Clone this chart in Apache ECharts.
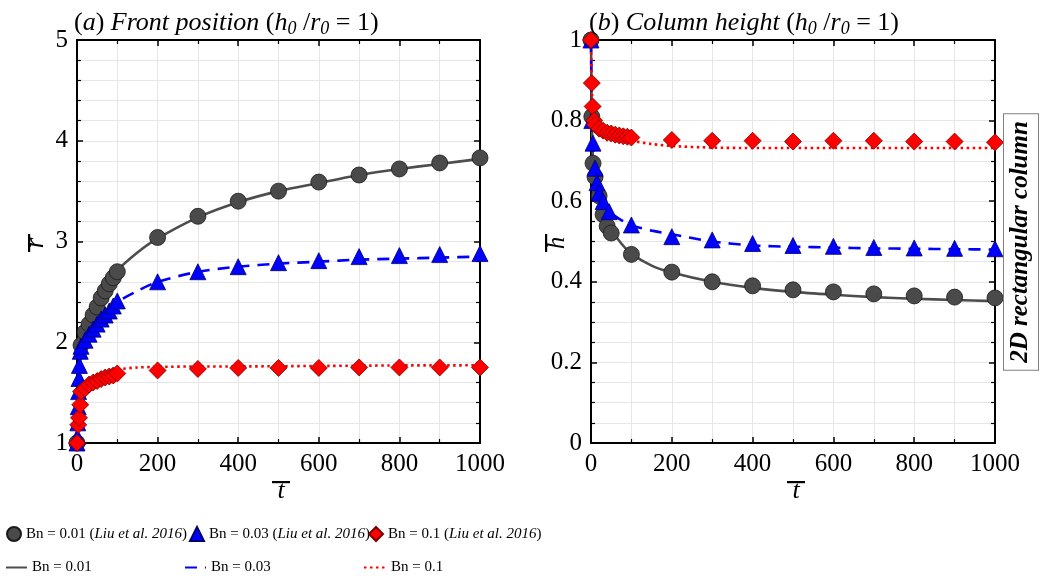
<!DOCTYPE html>
<html>
<head>
<meta charset="utf-8">
<script src="https://cdn.jsdelivr.net/npm/echarts@6/dist/echarts.min.js"></script>
<style>
  html, body { margin: 0; padding: 0; background: #fff; }
  #chart { width: 1050px; height: 588px; }
</style>
</head>
<body>
<div id="chart"></div>
<script>
// ---- (a) front position r vs t ----
const tLiuA01 = [0, 10, 20, 30, 40, 50, 60, 70, 80, 90, 100, 200, 300, 400, 500, 600, 700, 800, 900, 1000];
const rLiu01  = [1.00, 1.97, 2.10, 2.18, 2.27, 2.35, 2.44, 2.51, 2.58, 2.64, 2.70, 3.04, 3.25, 3.40, 3.50, 3.59, 3.66, 3.72, 3.78, 3.83];
const tLiuA03 = [0, 1, 2, 3, 4, 5, 6, 8, 10, 20, 30, 40, 50, 60, 70, 80, 90, 100, 200, 300, 400, 500, 600, 700, 800, 900, 1000];
const rLiu03  = [1.00, 1.06, 1.20, 1.36, 1.51, 1.64, 1.77, 1.91, 1.96, 2.02, 2.08, 2.13, 2.18, 2.23, 2.27, 2.31, 2.36, 2.41, 2.60, 2.70, 2.75, 2.79, 2.81, 2.85, 2.86, 2.87, 2.88];
const tLiuA1  = [0, 3, 5, 8, 10, 20, 30, 40, 50, 60, 70, 80, 90, 100, 200, 300, 400, 500, 600, 700, 800, 900, 1000];
const rLiu1   = [1.00, 1.18, 1.25, 1.38, 1.51, 1.54, 1.58, 1.60, 1.615, 1.635, 1.65, 1.66, 1.67, 1.69, 1.72, 1.735, 1.745, 1.745, 1.745, 1.75, 1.75, 1.75, 1.75];

// model curves share one time axis
const tModel   = [0, 1, 2, 5, 10, 20, 30, 50, 75, 100, 150, 200, 300, 400, 500, 600, 700, 800, 900, 1000];
const rModel01 = [1.00, 1.30, 1.50, 1.75, 1.95, 2.09, 2.18, 2.35, 2.55, 2.71, 2.89, 3.03, 3.24, 3.39, 3.50, 3.58, 3.66, 3.72, 3.77, 3.82];
const rModel03 = [1.00, 1.20, 1.35, 1.65, 1.88, 2.00, 2.07, 2.18, 2.30, 2.40, 2.51, 2.60, 2.70, 2.75, 2.78, 2.80, 2.82, 2.83, 2.84, 2.85];
const rModel1  = [1.00, 1.10, 1.20, 1.35, 1.50, 1.58, 1.62, 1.67, 1.71, 1.73, 1.75, 1.755, 1.76, 1.76, 1.762, 1.765, 1.767, 1.77, 1.77, 1.772];

// ---- (b) column height h vs t ----
const tLiuB01 = [0, 2, 5, 10, 20, 30, 40, 50, 100, 200, 300, 400, 500, 600, 700, 800, 900, 1000];
const hLiu01  = [1.00, 0.81, 0.694, 0.66, 0.613, 0.567, 0.538, 0.521, 0.468, 0.424, 0.40, 0.39, 0.38, 0.375, 0.37, 0.365, 0.362, 0.36];
const tLiuB03 = [0, 2, 5, 10, 15, 20, 30, 45, 100, 200, 300, 400, 500, 600, 700, 800, 900, 1000];
const hLiu03  = [1.00, 0.80, 0.744, 0.682, 0.646, 0.62, 0.599, 0.574, 0.541, 0.512, 0.504, 0.495, 0.49, 0.488, 0.485, 0.484, 0.483, 0.482];
const tLiuB1  = [0, 2, 4, 8, 10, 20, 30, 40, 50, 60, 70, 80, 90, 100, 200, 300, 400, 500, 600, 700, 800, 900, 1000];
const hLiu1   = [1.00, 0.893, 0.835, 0.80, 0.79, 0.78, 0.775, 0.77, 0.768, 0.765, 0.763, 0.761, 0.76, 0.758, 0.752, 0.75, 0.75, 0.748, 0.75, 0.75, 0.748, 0.748, 0.746];

const hModel01 = [1.00, 0.90, 0.80, 0.70, 0.65, 0.60, 0.57, 0.53, 0.495, 0.47, 0.44, 0.423, 0.40, 0.385, 0.375, 0.368, 0.362, 0.358, 0.355, 0.352];
const hModel03 = [1.00, 0.88, 0.80, 0.74, 0.68, 0.62, 0.595, 0.57, 0.553, 0.54, 0.527, 0.518, 0.50, 0.49, 0.487, 0.485, 0.483, 0.482, 0.481, 0.48];
const hModel1  = [1.00, 0.93, 0.88, 0.82, 0.79, 0.775, 0.768, 0.762, 0.756, 0.75, 0.742, 0.737, 0.733, 0.732, 0.732, 0.732, 0.732, 0.732, 0.732, 0.732];

// axis ticks
const tTicks = { min: 0, max: 1000, interval: 200 };
const rTicks = { min: 1, max: 5, interval: 1 };
const hTicks = { min: 0, max: 1, interval: 0.2 };

const names = {
  liu01: 'Bn = 0.01 (Liu et al. 2016)',
  liu03: 'Bn = 0.03 (Liu et al. 2016)',
  liu1:  'Bn = 0.1 (Liu et al. 2016)',
  m01: 'Bn = 0.01',
  m03: 'Bn = 0.03',
  m1:  'Bn = 0.1'
};

const SERIF = '"Liberation Serif", "Times New Roman", serif';
const zip = (xs, ys) => xs.map((x, i) => [x, ys[i]]);

const GRID_COLOR = '#e6e6e6';
const plainNumber = v => String(parseFloat(v.toFixed(2)));

function xAxisFor(gridIndex, position, withLabels) {
  return {
    type: 'value', gridIndex, position,
    min: tTicks.min, max: tTicks.max, interval: tTicks.interval,
    axisLine: { show: true, onZero: false, lineStyle: { color: '#000', width: 2 } },
    axisTick: { show: true, inside: true, length: 6, lineStyle: { color: '#000', width: 1.5 } },
    minorTick: { show: true, splitNumber: 2, length: 4, lineStyle: { color: '#000', width: 1.2 } },
    axisLabel: { show: withLabels, color: '#000', fontFamily: SERIF, fontSize: 25, margin: 9, formatter: plainNumber },
    splitLine: { show: withLabels, lineStyle: { color: GRID_COLOR, width: 1 } },
    minorSplitLine: { show: withLabels, lineStyle: { color: GRID_COLOR, width: 1 } }
  };
}

function yAxisFor(gridIndex, position, ticks, minorSplit, withLabels) {
  return {
    type: 'value', gridIndex, position,
    min: ticks.min, max: ticks.max, interval: ticks.interval,
    axisLine: { show: true, onZero: false, lineStyle: { color: '#000', width: 2 } },
    axisTick: { show: true, inside: true, length: 6, lineStyle: { color: '#000', width: 1.5 } },
    minorTick: { show: true, splitNumber: minorSplit, length: 4, lineStyle: { color: '#000', width: 1.2 } },
    axisLabel: { show: withLabels, color: '#000', fontFamily: SERIF, fontSize: 25, margin: 9, formatter: plainNumber },
    splitLine: { show: withLabels, lineStyle: { color: GRID_COLOR, width: 1 } },
    minorSplitLine: { show: withLabels, lineStyle: { color: GRID_COLOR, width: 1 } }
  };
}

const lineStyles = {
  m01: { color: '#4d4d4d', width: 2.6, type: 'solid' },
  m03: { color: '#0000ff', width: 2.6, type: [12, 8] },
  m1:  { color: '#ff0000', width: 2.6, type: [2.5, 3.5] }
};
const markerStyles = {
  liu01: { symbol: 'circle',   symbolSize: 16, itemStyle: { color: '#4a4a4a', borderColor: '#1a1a1a', borderWidth: 0.8, opacity: 1 } },
  liu03: { symbol: 'triangle', symbolSize: 16, itemStyle: { color: '#0000ff', borderColor: '#00006e', borderWidth: 0.8, opacity: 1 } },
  liu1:  { symbol: 'diamond',  symbolSize: 17, itemStyle: { color: '#ff0000', borderColor: '#7a0000', borderWidth: 0.8, opacity: 1 } }
};

function modelLine(key, axisIdx, ys) {
  return {
    type: 'line', name: names[key], xAxisIndex: axisIdx, yAxisIndex: axisIdx,
    data: zip(tModel, ys), showSymbol: false, symbol: 'none',
    smooth: 0.25, clip: true, z: 2,
    lineStyle: lineStyles[key], itemStyle: { color: lineStyles[key].color },
    emphasis: { disabled: true }
  };
}
function liuScatter(key, axisIdx, ts, ys) {
  return Object.assign({
    type: 'scatter', name: names[key], xAxisIndex: axisIdx, yAxisIndex: axisIdx,
    data: zip(ts, ys), z: 3, clip: false, emphasis: { disabled: true }
  }, markerStyles[key]);
}

// panel titles with italic and subscript runs
const titleRich = {
  n: { fontFamily: SERIF, fontSize: 26, fontWeight: 'normal', color: '#000', lineHeight: 30 },
  i: { fontFamily: SERIF, fontSize: 26, fontWeight: 'normal', color: '#000', fontStyle: 'italic', lineHeight: 30 },
  s: { fontFamily: SERIF, fontSize: 18, fontWeight: 'normal', color: '#000', fontStyle: 'italic', lineHeight: 14, verticalAlign: 'bottom' }
};
const titleA = '{n|(}{i|a}{n|) }{i|Front position }{n|(}{i|h}{s|0}{n| /}{i|r}{s|0}{n| = 1)}';
const titleB = '{n|(}{i|b}{n|) }{i|Column height }{n|(}{i|h}{s|0}{n| /}{i|r}{s|0}{n| = 1)}';

// legend: one component per entry so each sits in its own column
function legendAt(name, left, top, itemWidth, isLine) {
  const lg = {
    data: [name], left, top, orient: 'horizontal',
    itemWidth, itemHeight: 14, itemGap: 0, padding: 0,
    selectedMode: false,
    textStyle: {
      fontFamily: SERIF, fontSize: 15, color: '#000',
      rich: { it: { fontFamily: SERIF, fontSize: 15, color: '#000', fontStyle: 'italic' } }
    },
    formatter: n => n.replace('(Liu et al. 2016)', '({it|Liu et al. 2016})')
  };
  if (isLine) {
    // keep only the line sample, no point marker
    lg.itemStyle = { color: 'rgba(0,0,0,0)', borderColor: 'rgba(0,0,0,0)', borderWidth: 0, opacity: 0 };
  }
  return lg;
}

// overlined axis symbol (r̄, h̄, t̄)
function barSymbol(ch, x, y, rotated, fontSize, barOffset) {
  return {
    type: 'group', x, y, rotation: rotated ? Math.PI / 2 : 0,
    children: [
      { type: 'text', style: { text: ch, x: 0, y: 0, align: 'center', verticalAlign: 'middle',
          font: 'italic ' + fontSize + 'px ' + SERIF, fill: '#000' } },
      { type: 'rect', shape: { x: -9, y: barOffset, width: 18, height: 2.2 }, style: { fill: '#000' } }
    ]
  };
}

const option = {
  backgroundColor: '#fff',
  animation: false,
  title: [
    { text: titleA, left: 74, top: 8, padding: 0, textStyle: { fontWeight: 'normal', rich: titleRich } },
    { text: titleB, left: 589, top: 8, padding: 0, textStyle: { fontWeight: 'normal', rich: titleRich } }
  ],
  grid: [
    { left: 77, top: 40, width: 403, height: 403 },
    { left: 591, top: 40, width: 404, height: 403 }
  ],
  xAxis: [
    xAxisFor(0, 'bottom', true), xAxisFor(0, 'top', false),
    xAxisFor(1, 'bottom', true), xAxisFor(1, 'top', false)
  ],
  yAxis: [
    yAxisFor(0, 'left', rTicks, 5, true), yAxisFor(0, 'right', rTicks, 5, false),
    yAxisFor(1, 'left', hTicks, 4, true), yAxisFor(1, 'right', hTicks, 4, false)
  ],
  legend: [
    legendAt(names.liu01, 6, 526, 14, false),
    legendAt(names.liu03, 189, 526, 14, false),
    legendAt(names.liu1, 368, 526, 14, false),
    legendAt(names.m01, 5, 560, 21, true),
    legendAt(names.m03, 184, 560, 21, true),
    legendAt(names.m1, 363, 560, 22, true)
  ],
  series: [
    modelLine('m01', 0, rModel01),
    modelLine('m03', 0, rModel03),
    modelLine('m1', 0, rModel1),
    liuScatter('liu01', 0, tLiuA01, rLiu01),
    liuScatter('liu03', 0, tLiuA03, rLiu03),
    liuScatter('liu1', 0, tLiuA1, rLiu1),
    modelLine('m01', 2, hModel01),
    modelLine('m03', 2, hModel03),
    modelLine('m1', 2, hModel1),
    liuScatter('liu01', 2, tLiuB01, hLiu01),
    liuScatter('liu03', 2, tLiuB03, hLiu03),
    liuScatter('liu1', 2, tLiuB1, hLiu1)
  ],
  graphic: [
    barSymbol('r', 36, 243, true, 28, -8),
    barSymbol('h', 557, 243, true, 25, -12),
    barSymbol('t', 281, 491, false, 26, -10),
    barSymbol('t', 796, 491, false, 26, -10),
    {
      type: 'text', x: 1021, y: 242, rotation: Math.PI / 2,
      style: {
        text: '2D rectangular column', align: 'center', verticalAlign: 'middle',
        font: 'italic bold 25px ' + SERIF, fill: '#000',
        backgroundColor: '#fff', borderColor: '#808080', borderWidth: 1,
        padding: [4, 7], lineHeight: 26
      },
      z: 100
    }
  ]
};

const chart = echarts.init(document.getElementById('chart'), null, { renderer: 'canvas' });
chart.setOption(option);
</script>
</body>
</html>
